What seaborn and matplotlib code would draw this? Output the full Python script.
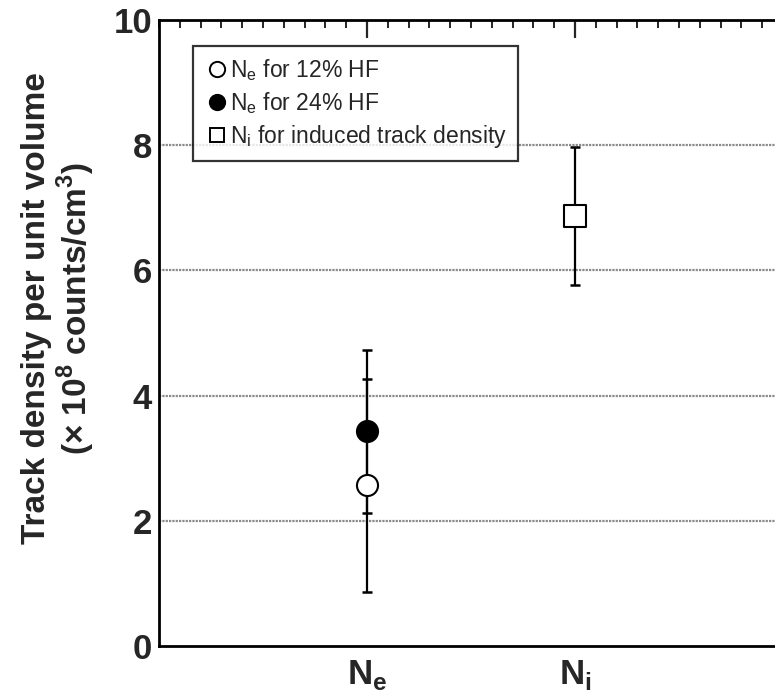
import matplotlib
matplotlib.use("Agg")
import matplotlib.pyplot as plt
import seaborn as sns
import pandas as pd
from matplotlib.ticker import MultipleLocator
from matplotlib.lines import Line2D

sns.set_style("white")
plt.rcParams['font.family'] = ['Liberation Sans', 'DejaVu Sans']
plt.rcParams['mathtext.fontset'] = 'custom'
plt.rcParams['mathtext.rm'] = 'Liberation Sans'
plt.rcParams['mathtext.bf'] = 'Liberation Sans:bold'

# Data
tick_labels = [r'N$_\mathbf{e}$', r'N$_\mathbf{i}$']
categories = ['Ne', 'Ne', 'Ni']
series = ['Ne for 12% HF', 'Ne for 24% HF', 'Ni for induced track density']
values = [2.57, 3.43, 6.87]
errors = [1.70, 1.30, 1.10]
legend_labels = [r'N$_\mathregular{e}$ for 12% HF',
                 r'N$_\mathregular{e}$ for 24% HF',
                 r'N$_\mathregular{i}$ for induced track density']

cat_order = ['Ne', 'Ni']
df = pd.DataFrame({'category': categories, 'series': series,
                   'value': values, 'error': errors})
df['x'] = df['category'].map({c: i + 1 for i, c in enumerate(cat_order)})

fig = plt.figure(figsize=(7.75, 6.96), dpi=100)
ax = fig.add_axes([159 / 775, 1 - 646 / 696, 624 / 775, 626 / 696])

# grid
for yv in [2, 4, 6, 8]:
    ax.axhline(yv, color='#8a8a8a', lw=1.6, ls=(0, (1, 0.5)), zorder=0)

# error bars
for _, r in df.iterrows():
    ax.errorbar(r['x'], r['value'], yerr=r['error'], fmt='none', ecolor='black',
                elinewidth=1.6, capsize=3.6, capthick=1.8, zorder=2)

markers = {series[0]: 'o', series[1]: 'o', series[2]: 's'}
faces = ['white', 'black', 'white']
for i, s in enumerate(series):
    sub = df[df['series'] == s]
    sns.scatterplot(data=sub, x='x', y='value', marker=markers[s], s=230,
                    facecolor=faces[i], edgecolor='black', linewidth=1.5, ax=ax, zorder=3,
                    legend=False)

ax.set_xlim(0, 3)
ax.set_ylim(0, 10)
ax.set_xticks([1, 2])
ax.set_xticklabels(tick_labels, fontsize=25, fontweight='bold')
ax.set_yticks([0, 2, 4, 6, 8, 10])
ax.set_yticklabels(['0', '2', '4', '6', '8', '10'], fontsize=25, fontweight='bold')
ax.xaxis.set_minor_locator(MultipleLocator(0.1))
ax.yaxis.set_minor_locator(MultipleLocator(0.5))
ax.tick_params(which='major', direction='in', length=13, width=1.6, top=True, right=False)
ax.tick_params(which='minor', direction='in', length=6, width=1.4, top=True, right=False)
ax.tick_params(axis='y', which='major', pad=5)
ax.tick_params(axis='x', which='major', pad=9)
for sp in ax.spines.values():
    sp.set_linewidth(2)
    sp.set_color('black')
ax.set_xlabel('')
ax.set_ylabel('Track density per unit volume\n' + r'(× 10$^\mathbf{8}$ counts/cm$^\mathbf{3}$)',
              fontsize=24, fontweight='bold', linespacing=1.1)
ax.yaxis.set_label_coords((97 - 159) / 624, 0.54)

handles = [Line2D([], [], marker='o', ls='none', mfc='white', mec='black', ms=11, mew=1.4),
           Line2D([], [], marker='o', ls='none', mfc='black', mec='black', ms=11, mew=1.4),
           Line2D([], [], marker='s', ls='none', mfc='white', mec='black', ms=10, mew=1.4)]
leg = ax.legend(handles, legend_labels, loc='upper left', bbox_to_anchor=(34 / 624, 1 - 26 / 626),
                fontsize=16.5, frameon=True, fancybox=False, edgecolor='black',
                handletextpad=0.0, handlelength=1.1, borderpad=0.5, labelspacing=0.3,
                borderaxespad=0)
leg.get_frame().set_linewidth(1.6)
leg.set_zorder(5)

fig.savefig('out.png', dpi=100)
